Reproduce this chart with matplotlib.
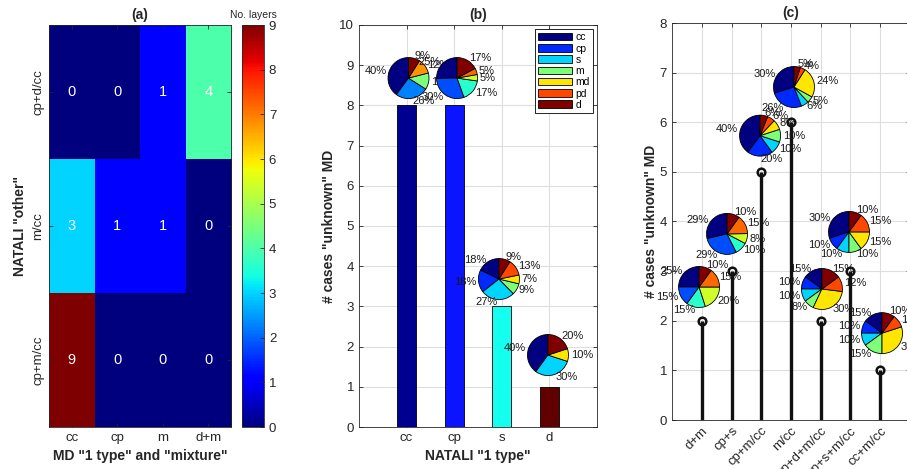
import numpy as np
import matplotlib
matplotlib.use("Agg")
import matplotlib.pyplot as plt
from matplotlib.patches import Patch

plt.rcParams['font.family'] = ['Liberation Sans', 'DejaVu Sans']

# ---------------- data ----------------
# (a) layers per MD class vs NATALI "other" class
natali_other = ['cp+d/cc', 'm/cc', 'cp+m/cc']
md_classes = ['cc', 'cp', 'm', 'd+m']
layer_counts = [[0, 0, 1, 4],
                [3, 1, 1, 0],
                [9, 0, 0, 0]]

# (b) NATALI "1 type"
natali_types = ['cc', 'cp', 's', 'd']
type_cases = [8, 8, 3, 1]
md_legend = ['cc', 'cp', 's', 'm', 'md', 'pd', 'd']
pie_cc = [40, 26, 13, 12, 9]
pie_cp = [25, 30, 17, 5, 5, 17]
pie_s = [18, 18, 27, 9, 7, 13, 9]
pie_d = [40, 30, 10, 20]

# (c) mixtures
mix_labels = ['d+m', 'cp+s', 'cp+m/cc', 'm/cc', 'cp+d+m/cc', 'cp+s+m/cc', 'cc+m/cc']
mix_cases = [2, 3, 5, 6, 2, 3, 1]
pie_dm = [25, 15, 15, 20, 15, 10]
pie_cps = [29, 29, 10, 8, 15, 10]
pie_cpmcc = [40, 20, 10, 10, 8, 6, 6]
pie_mcc = [30, 26, 6, 5, 24, 4, 5]
pie_cpdmcc = [15, 10, 10, 8, 30, 12, 15]
pie_cpsmcc = [30, 10, 10, 10, 15, 15, 10]
pie_ccmcc = [15, 10, 10, 15, 30, 10, 10]

# ---------------- layout / style ----------------
W, H = 907, 469
AXC = '#262626'
GRID = '#dedede'
TICK_FS = 9.5
LAB_FS = 10
PIE_FS = 8

fig = plt.figure(figsize=(W / 100, H / 100), dpi=100)


def px_box(left, top, right, bottom):
    return [left / W, 1 - bottom / H, (right - left) / W, (bottom - top) / H]


def style_axes(ax):
    for s in ax.spines.values():
        s.set_color(AXC)
        s.set_linewidth(0.6)
    ax.tick_params(direction='in', length=3, width=0.6, top=True, right=True,
                   colors=AXC, labelsize=TICK_FS)


def add_pie(host, x, y, values, r_px=20.5):
    fx, fy = fig.transFigure.inverted().transform(host.transData.transform((x, y)))
    w, h = 2 * r_px / W, 2 * r_px / H
    pax = fig.add_axes([fx - w / 2, fy - h / 2, w, h])
    cols = plt.cm.jet(np.linspace(0, 1, len(values)))
    pax.pie(values, colors=cols, startangle=90, counterclock=True,
            labels=[f'{v}%' for v in values], labeldistance=1.12,
            wedgeprops=dict(edgecolor='k', linewidth=0.6),
            textprops=dict(fontsize=PIE_FS, color='#1a1a1a'))
    pax.set_xlim(-1, 1)
    pax.set_ylim(-1, 1)
    pax.axis('off')
    return pax


# ---------------- (a) heat map ----------------
ax_a = fig.add_axes(px_box(49, 25, 231, 427))
cax = fig.add_axes(px_box(242, 25, 264, 427))
im = ax_a.imshow(np.array(layer_counts), cmap='jet', vmin=0, vmax=9,
                 aspect='auto', interpolation='nearest')
for i, row in enumerate(layer_counts):
    for j, v in enumerate(row):
        ax_a.text(j, i, str(v), color='white', ha='center', va='center', fontsize=10.5)
style_axes(ax_a)
ax_a.set_xticks(range(len(md_classes)))
ax_a.set_xticklabels(md_classes)
ax_a.set_yticks(range(len(natali_other)))
ax_a.set_yticklabels(natali_other, rotation=90, va='center')
ax_a.set_xlabel('MD "1 type" and "mixture"', fontsize=LAB_FS, fontweight='bold', color=AXC)
ax_a.set_ylabel('NATALI "other"', fontsize=LAB_FS, fontweight='bold', color=AXC)
ax_a.set_title('(a)', fontsize=LAB_FS, fontweight='bold', color=AXC, pad=4)

cb = fig.colorbar(im, cax=cax, ticks=range(10))
cb.outline.set_edgecolor(AXC)
cb.outline.set_linewidth(0.6)
cax.tick_params(direction='in', length=3, width=0.6, colors=AXC, labelsize=TICK_FS)
cax.set_title('No. layers', fontsize=7.5, color=AXC, pad=5)

# ---------------- (b) bars + pies ----------------
ax_b = fig.add_axes(px_box(359, 25, 597, 427))
bar_colors = ['#000090', '#0a14ff', '#14ffef', '#600000']
xb = np.arange(1, len(natali_types) + 1)
ax_b.bar(xb, type_cases, width=0.4, color=bar_colors, edgecolor='k', linewidth=0.6, zorder=2)
ax_b.set_xlim(0, 5)
ax_b.set_ylim(0, 10)
ax_b.set_xticks(xb)
ax_b.set_xticklabels(natali_types)
ax_b.set_yticks(range(0, 11))
ax_b.grid(True, color=GRID, linewidth=0.8, zorder=0)
ax_b.set_axisbelow(True)
style_axes(ax_b)
ax_b.set_xlabel('NATALI "1 type"', fontsize=LAB_FS, fontweight='bold', color=AXC)
ax_b.set_ylabel('# cases "unknown" MD', fontsize=LAB_FS, fontweight='bold', color=AXC,
                labelpad=2)
ax_b.set_title('(b)', fontsize=LAB_FS, fontweight='bold', color=AXC, pad=4)

leg_cols = plt.cm.jet(np.linspace(0, 1, len(md_legend)))
handles = [Patch(facecolor=c, edgecolor='k', linewidth=0.6, label=n)
           for c, n in zip(leg_cols, md_legend)]
leg = ax_b.legend(handles=handles, loc='upper right', fontsize=7.5, handlelength=3.2,
                  handleheight=0.75, labelspacing=0.12, handletextpad=0.35,
                  borderpad=0.3, borderaxespad=0.4, fancybox=False, framealpha=1)
leg.get_frame().set_edgecolor('k')
leg.get_frame().set_linewidth(0.6)

b_pies = [pie_cc, pie_cp, pie_s, pie_d]
b_dx = [0.04, 0.06, -0.06, -0.03]
b_dy = [0.68, 0.68, 0.68, 0.79]
for x, v, vals, dx, dy in zip(xb, type_cases, b_pies, b_dx, b_dy):
    add_pie(ax_b, x + dx, v + dy, vals)

# ---------------- (c) stems + pies ----------------
ax_c = fig.add_axes(px_box(672, 23, 910, 420))
xc = np.arange(1, len(mix_labels) + 1)
ml, sl, bl = ax_c.stem(xc, mix_cases, linefmt='k-', markerfmt='ko', basefmt=' ')
plt.setp(sl, linewidth=2.4, color='#111111')
plt.setp(ml, markersize=5.5, markeredgewidth=1.8, markerfacecolor='none', color='#111111')
ax_c.set_xlim(0, 8)
ax_c.set_ylim(0, 8)
ax_c.set_xticks(xc)
ax_c.set_xticklabels(mix_labels, rotation=45, ha='right', rotation_mode='anchor')
ax_c.set_yticks(range(0, 9))
ax_c.grid(True, color=GRID, linewidth=0.8, zorder=0)
ax_c.set_axisbelow(True)
style_axes(ax_c)
ax_c.set_ylabel('# cases "unknown" MD', fontsize=LAB_FS, fontweight='bold', color=AXC,
                labelpad=1)
ax_c.set_title('(c)', fontsize=LAB_FS, fontweight='bold', color=AXC, pad=4)

c_pies = [pie_dm, pie_cps, pie_cpmcc, pie_mcc, pie_cpdmcc, pie_cpsmcc, pie_ccmcc]
c_dx = [-0.09, -0.15, -0.04, 0.10, 0.04, -0.05, 0.06]
c_dy = [0.68, 0.75, 0.73, 0.71, 0.64, 0.79, 0.75]
for x, v, vals, dx, dy in zip(xc, mix_cases, c_pies, c_dx, c_dy):
    add_pie(ax_c, x + dx, v + dy, vals)

fig.savefig('out.png', dpi=100)
